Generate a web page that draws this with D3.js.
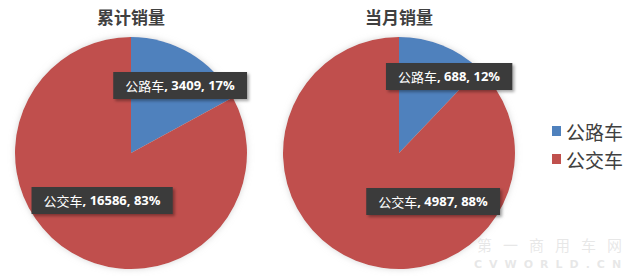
<!DOCTYPE html>
<html><head><meta charset="utf-8">
<script src="https://cdn.jsdelivr.net/npm/d3@7"></script>
<style>body{margin:0;background:#fff;}svg{display:block;}</style>
</head><body>
<svg id="c" width="640" height="276"></svg>
<script>
const categories = ["公路车", "公交车"];
const chartTitles = ["累计销量", "当月销量"];
const cumulativeValues = [3409, 16586];
const monthlyValues = [688, 4987];
const colors = ["#4F81BD", "#C0504D"];

const svg = d3.select("#c");
const defs = svg.append("defs");
const f = defs.append("filter").attr("id","sh").attr("x","-10%").attr("y","-10%").attr("width","130%").attr("height","130%");
f.append("feDropShadow").attr("dx",2).attr("dy",2).attr("stdDeviation",1.5).attr("flood-color","#000").attr("flood-opacity",0.35);
const g2 = defs.append("filter").attr("id","glow").attr("x","-10%").attr("y","-10%").attr("width","120%").attr("height","120%");
g2.append("feDropShadow").attr("dx",0).attr("dy",0).attr("stdDeviation",3).attr("flood-color","#bbb").attr("flood-opacity",0.6);

const color = d3.scaleOrdinal().domain(categories).range(colors);
const pie = d3.pie().sort(null).value(d => d.v);
const R = 116;
const arc = d3.arc().innerRadius(0).outerRadius(R);

const charts = [
  {title: chartTitles[0], values: cumulativeValues, cx: 131, cy: 153,
   labelPos: [[180, 85], [102, 200]]},
  {title: chartTitles[1], values: monthlyValues, cx: 399, cy: 153,
   labelPos: [[449, 76], [433, 201]]}
];

charts.forEach(c => {
  const data = categories.map((k,i) => ({k, v: c.values[i]}));
  const total = d3.sum(c.values);
  const g = svg.append("g").attr("transform", `translate(${c.cx},${c.cy})`);
  g.append("g").attr("filter","url(#glow)").selectAll("path").data(pie(data)).join("path")
    .attr("d", arc).attr("fill", d => color(d.data.k));
  svg.append("text").attr("x", c.cx).attr("y", 24).attr("text-anchor","middle")
    .attr("font-family","'Noto Sans CJK SC', sans-serif").attr("font-weight","bold")
    .attr("font-size", 17).attr("fill","#404040").text(c.title);
  data.forEach((d,i) => {
    const pct = Math.round(d.v / total * 100);
    const [lx, ly] = c.labelPos[i];
    const lg = svg.append("g");
    const t = lg.append("text").attr("x", lx).attr("y", ly).attr("text-anchor","middle")
      .attr("dominant-baseline","central").attr("fill","#fff")
      .attr("font-family","'Open Sans','Noto Sans CJK SC', sans-serif").attr("font-weight","bold")
      .attr("font-size", 13);
    t.append("tspan").attr("font-family","'Noto Sans CJK SC', sans-serif").attr("font-weight","normal").text(d.k);
    t.append("tspan").text(`, ${d.v}, ${pct}%`);
    const bb = t.node().getBBox();
    lg.insert("rect","text").attr("x", bb.x - 12).attr("y", ly - 13).attr("width", bb.width + 24).attr("height", 27)
      .attr("fill","#3b3b3b").attr("filter","url(#sh)");
  });
});

// legend
const legend = svg.append("g");
categories.forEach((k,i) => {
  const y = 131 + i * 28;
  legend.append("rect").attr("x", 552).attr("y", y - 5).attr("width", 9).attr("height", 10).attr("fill", color(k));
  legend.append("text").attr("x", 566).attr("y", y).attr("dominant-baseline","central")
    .attr("font-family","'Noto Sans CJK SC', sans-serif").attr("font-size", 19).attr("fill","#404040").text(k);
});

// watermark
svg.append("text").attr("x", 477).attr("y", 244).attr("dominant-baseline","central")
  .attr("font-family","'Noto Sans CJK SC', sans-serif").attr("font-size", 15).attr("letter-spacing", 11)
  .attr("fill","#d8d8d8").attr("fill-opacity", 0.6).text("第一商用车网");
svg.append("text").attr("x", 474).attr("y", 264).attr("dominant-baseline","central")
  .attr("font-family","'DejaVu Sans', sans-serif").attr("font-weight","bold").attr("font-size", 11).attr("letter-spacing", 7)
  .attr("fill","#d8d8d8").attr("fill-opacity", 0.6).text("CVWORLD.CN");
</script>
</body></html>
